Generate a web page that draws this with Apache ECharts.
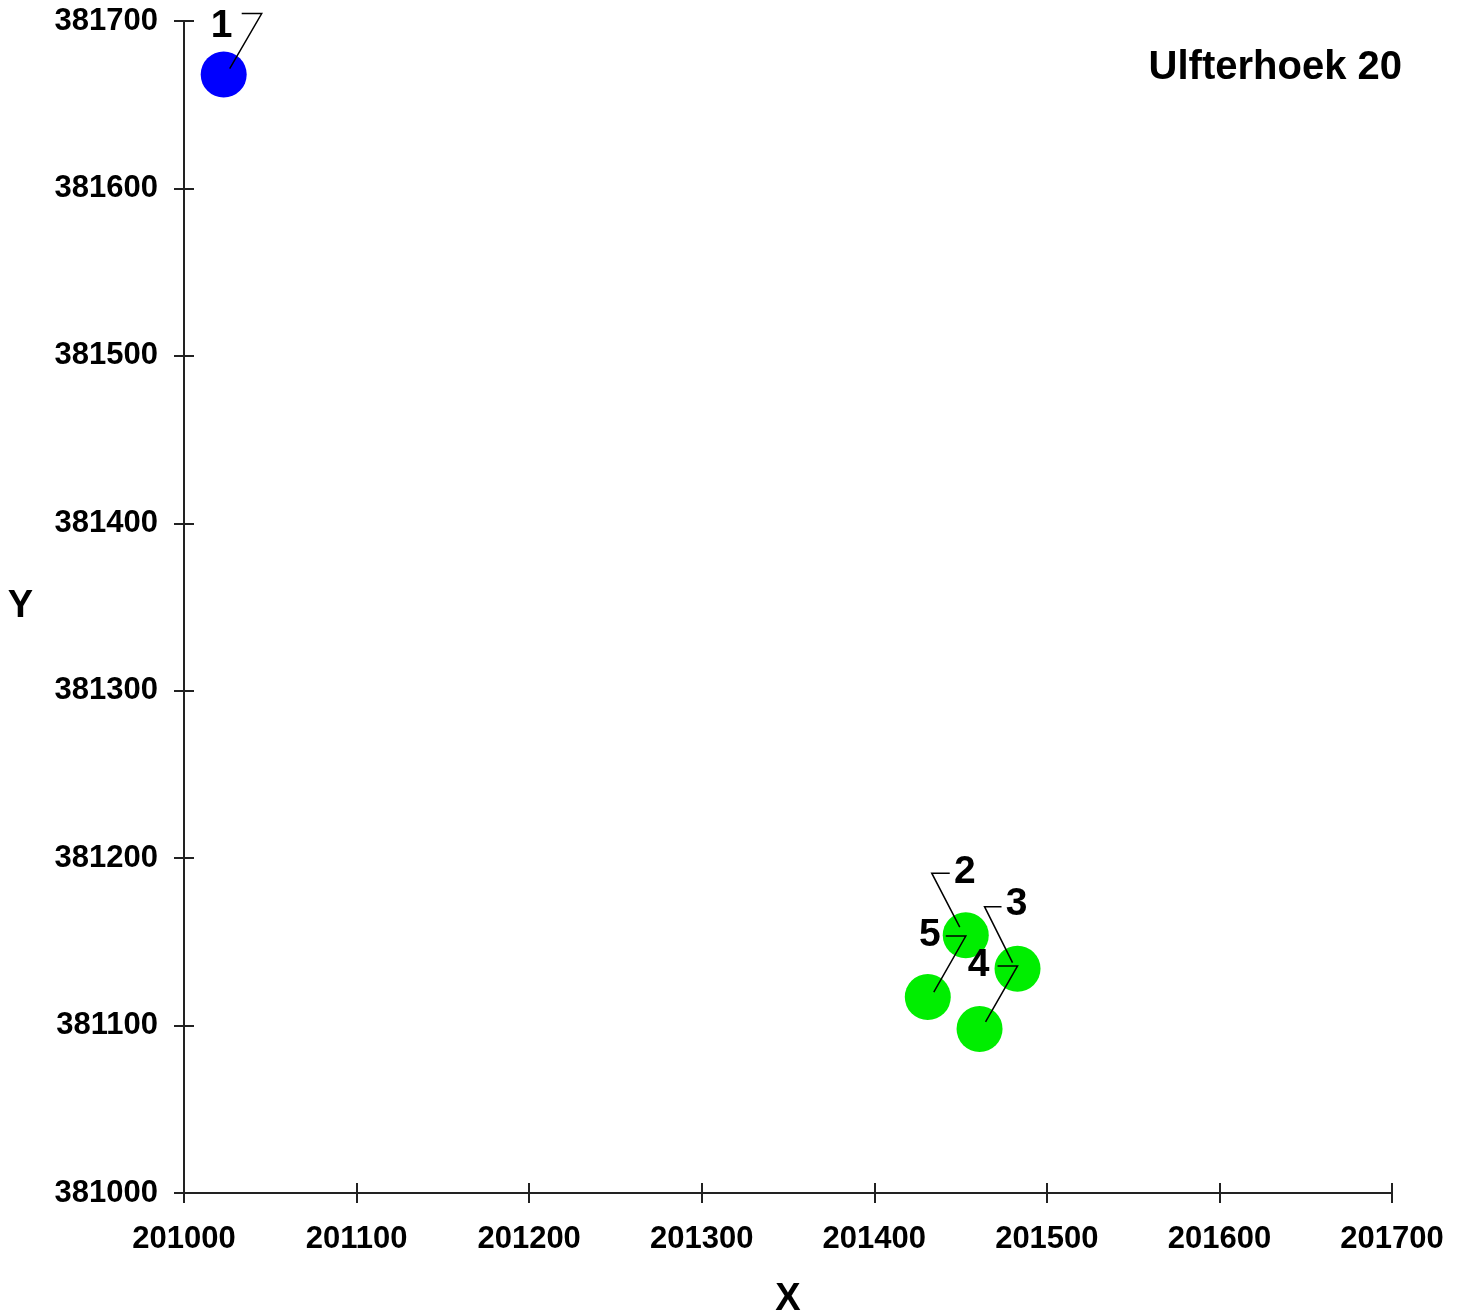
<!DOCTYPE html>
<html><head><meta charset="utf-8">
<script src="https://cdn.jsdelivr.net/npm/echarts@6/dist/echarts.min.js"></script>
<style>html,body{margin:0;padding:0;background:#fff}#c{width:1464px;height:1312px}</style>
</head><body><div id="c"></div>
<script>
// ---- data ----
const pointLabels = ['1', '2', '3', '4', '5'];
const xValues = [201023, 201453, 201483, 201461, 201431];
const yValues = [381668, 381154, 381134, 381098, 381117];
const xTicks = [201000, 201100, 201200, 201300, 201400, 201500, 201600, 201700];
const yTicks = [381000, 381100, 381200, 381300, 381400, 381500, 381600, 381700];
const chartTitle = 'Ulfterhoek 20';

// ---- styles ----
const pointColors = ['#0000ff', '#00ee00', '#00ee00', '#00ee00', '#00ee00'];
// label / leader-line offsets in pixels relative to each point centre
const leaderStyle = [
  {label: [-2, -48], line: [[18, -61], [38, -61], [6, -6]]},
  {label: [-1, -63], line: [[-16, -62], [-34, -62], [-6, -8]]},
  {label: [-1, -64], line: [[-16, -62], [-33, -62], [-5, -6]]},
  {label: [-1, -64], line: [[18, -63], [38, -63], [6, -7]]},
  {label: [2, -62], line: [[18, -61], [38, -61], [6, -5]]}
];
const FONT = '"Liberation Sans", Arial, sans-serif';

const points = xValues.map((x, i) => [x, yValues[i], i]);

const chart = echarts.init(document.getElementById('c'), null, {renderer: 'canvas'});
const axisCommon = (min, max) => ({
  type: 'value', min: min, max: max, interval: 100,
  splitLine: {show: false}
});
const lineStyle = {color: '#222', width: 2};
const plain = v => String(v);

chart.setOption({
  animation: false,
  backgroundColor: '#fff',
  title: {
    text: chartTitle, right: 57, top: 43,
    textStyle: {fontFamily: FONT, fontWeight: 'bold', fontSize: 40, color: '#000'}
  },
  grid: {left: 184, right: 72, top: 21, bottom: 119, containLabel: false, outerBoundsMode: 'none'},
  xAxis: [
    Object.assign(axisCommon(xTicks[0], xTicks[xTicks.length - 1]), {
      position: 'bottom',
      name: 'X', nameLocation: 'middle', nameGap: 88,
      nameTextStyle: {fontFamily: FONT, fontWeight: 'bold', fontSize: 38, color: '#000'},
      axisLine: {show: true, onZero: false, lineStyle: lineStyle},
      axisTick: {show: true, inside: false, length: 10, lineStyle: lineStyle},
      axisLabel: {show: true, margin: 31, formatter: plain, fontFamily: FONT, fontWeight: 'bold', fontSize: 31, color: '#000'}
    }),
    Object.assign(axisCommon(xTicks[0], xTicks[xTicks.length - 1]), {
      position: 'bottom',
      axisLine: {show: false, onZero: false},
      axisTick: {show: true, inside: true, length: 10, lineStyle: lineStyle},
      axisLabel: {show: false}
    })
  ],
  yAxis: [
    Object.assign(axisCommon(yTicks[0], yTicks[yTicks.length - 1]), {
      position: 'left',
      name: 'Y', nameLocation: 'middle', nameGap: 151, nameRotate: 0,
      nameTextStyle: {fontFamily: FONT, fontWeight: 'bold', fontSize: 38, color: '#000'},
      axisLine: {show: true, onZero: false, lineStyle: lineStyle},
      axisTick: {show: true, inside: false, length: 10, lineStyle: lineStyle},
      axisLabel: {show: true, margin: 26, formatter: plain, fontFamily: FONT, fontWeight: 'bold', fontSize: 31, color: '#000'}
    }),
    Object.assign(axisCommon(yTicks[0], yTicks[yTicks.length - 1]), {
      position: 'left',
      axisLine: {show: false, onZero: false},
      axisTick: {show: true, inside: true, length: 10, lineStyle: lineStyle},
      axisLabel: {show: false}
    })
  ],
  series: [
    {
      type: 'scatter', xAxisIndex: 0, yAxisIndex: 0,
      symbol: 'circle', symbolSize: 46,
      data: points,
      itemStyle: {opacity: 1, color: p => pointColors[p.data[2]]},
      z: 2
    },
    {
      type: 'custom', xAxisIndex: 0, yAxisIndex: 0,
      data: points,
      z: 5,
      renderItem: function (params, api) {
        const idx = api.value(2);
        const c = api.coord([api.value(0), api.value(1)]);
        const st = leaderStyle[idx];
        return {
          type: 'group',
          children: [
            {
              type: 'polyline',
              shape: {points: st.line.map(o => [c[0] + o[0], c[1] + o[1]])},
              style: {stroke: '#000', lineWidth: 1.5, fill: null}
            },
            {
              type: 'text',
              x: c[0] + st.label[0], y: c[1] + st.label[1],
              style: {
                text: pointLabels[idx], fill: '#000',
                font: 'bold 39px ' + FONT,
                align: 'center', verticalAlign: 'middle'
              }
            }
          ]
        };
      }
    }
  ]
});
</script></body></html>
